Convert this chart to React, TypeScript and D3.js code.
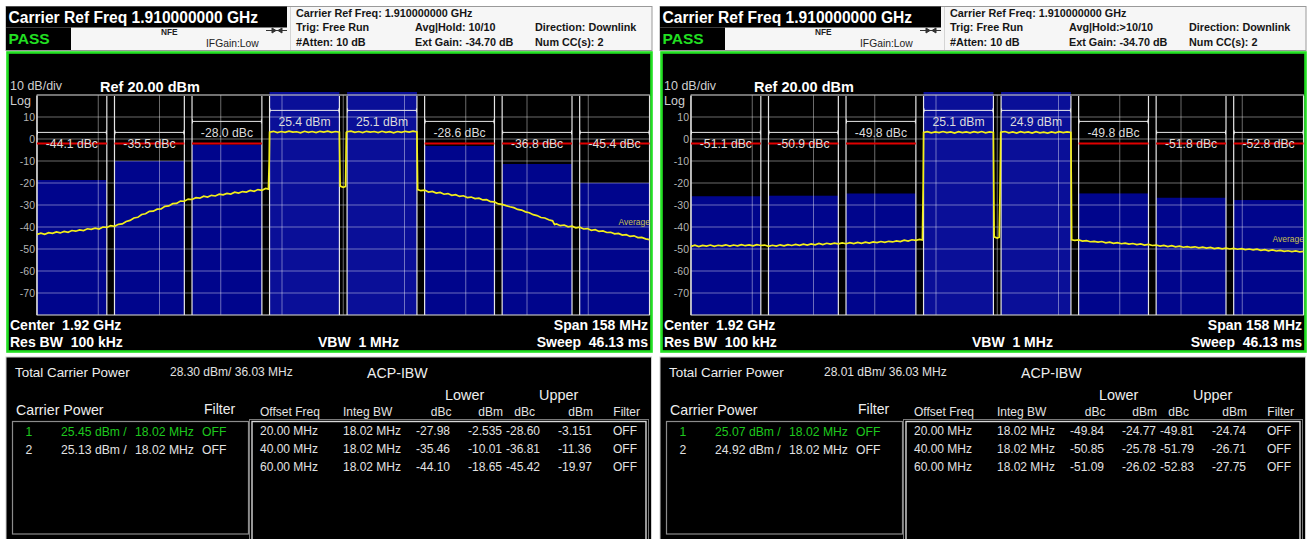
import React from 'react';
import * as d3 from 'd3';

const FONT = "'Liberation Sans', Arial, Helvetica, sans-serif";

// ---- instrument settings ----
const centerFreqMHz = 1920;
const spanMHz = 158;
const refLevel = 20;
const dbPerDiv = 10;
const yTickLabels = [10, 0, -10, -20, -30, -40, -50, -60, -70];
const carrierFreqs = [1910, 1930];
const integBW = 18.02;
const offsetFreqs = [20, 40, 60];
const limitLevel = -2;
const bracketCarrier = 13;
const bracketNear = 8;
const bracketFar = 3;

// ---- left measurement ----
const leftAvgHold = 'Avg|Hold: 10/10';
const leftTotalPower = '28.30 dBm/ 36.03 MHz';
const leftCarrierPower = [25.45, 25.13];
const leftLowerDbc = [-27.98, -35.46, -44.10];
const leftLowerDbm = [-2.535, -10.01, -18.65];
const leftUpperDbc = [-28.60, -36.81, -45.42];
const leftUpperDbm = [-3.151, -11.36, -19.97];
const leftAverageLabel = -39;
const leftTrace: [number, number][] = [
  [1841,-43.4],[1842,-42.8],[1843,-43.3],[1844,-42.6],[1845,-42.9],[1846,-42.2],[1847,-42.7],[1848,-42.0],[1849,-42.4],[1850,-41.6],
  [1851,-41.9],[1852,-41.3],[1853,-41.6],[1854,-40.8],[1855,-41.1],[1856,-40.5],[1857,-40.9],[1858,-40.0],[1859,-40.2],[1860,-39.4],
  [1861,-39.7],[1862,-38.8],[1863,-38.6],[1864,-37.5],[1865,-37.0],[1866,-35.9],[1867,-35.6],[1868,-34.3],[1869,-34.0],[1870,-32.9],
  [1871,-32.8],[1872,-31.9],[1873,-31.8],[1874,-30.6],[1875,-30.4],[1876,-29.4],[1877,-29.3],[1878,-28.2],[1879,-28.3],[1880,-27.3],
  [1881,-27.5],[1882,-26.7],[1883,-26.9],[1884,-26.0],[1885,-26.4],[1886,-25.6],[1887,-25.9],[1888,-25.1],[1889,-25.4],[1890,-24.7],
  [1891,-25.0],[1892,-24.2],[1893,-24.6],[1894,-23.9],[1895,-24.1],[1896,-23.4],[1897,-23.8],[1898,-23.0],[1899,-23.3],[1900,-22.5],
  [1900.7,-22.8],[1900.9,-10.0],[1901,3.1],
  [1902,3.5],[1903,2.9],[1904,3.4],[1905,3.0],[1906,3.6],[1907,3.1],[1908,3.3],[1909,2.8],[1910,3.5],[1911,3.0],
  [1912,3.4],[1913,2.9],[1914,3.5],[1915,3.1],[1916,3.6],[1917,3.0],[1918,3.4],[1919,3.1],
  [1919.2,-21.4],[1920.0,-22.0],[1920.6,-21.6],[1920.8,3.0],
  [1921,3.3],[1922,3.6],[1923,3.0],[1924,3.4],[1925,2.9],[1926,3.5],[1927,3.1],[1928,3.4],[1929,2.9],[1930,3.5],
  [1931,3.0],[1932,3.3],[1933,2.8],[1934,3.4],[1935,3.0],[1936,3.5],[1937,3.1],[1938,3.6],[1939,3.2],
  [1939.2,-23.0],[1940,-23.5],[1941,-23.2],[1942,-24.1],[1943,-23.8],[1944,-24.6],[1945,-24.3],[1946,-25.1],[1947,-24.8],[1948,-25.6],
  [1949,-25.3],[1950,-26.1],[1951,-25.8],[1952,-26.6],[1953,-26.4],[1954,-27.1],[1955,-26.9],[1956,-27.7],[1957,-27.6],[1958,-28.5],
  [1959,-28.6],[1960,-29.5],[1961,-29.7],[1962,-30.3],[1963,-30.8],[1964,-31.2],[1965,-32.0],[1966,-32.3],[1967,-33.1],[1968,-33.5],
  [1969,-34.4],[1970,-34.8],[1971,-35.7],[1972,-35.9],[1973,-36.7],[1974,-37.2],[1974.5,-38.9],[1975,-38.6],[1976,-39.4],[1977,-39.1],
  [1978,-39.9],[1979,-39.6],[1980,-40.4],[1981,-40.1],[1982,-40.9],[1983,-40.7],[1984,-41.5],[1985,-41.2],[1986,-42.0],[1987,-41.8],
  [1988,-42.5],[1989,-42.4],[1990,-43.1],[1991,-42.9],[1992,-43.7],[1993,-43.5],[1994,-44.3],[1995,-44.0],[1996,-44.8],[1997,-44.7],
  [1998,-45.4],[1999,-45.7],
];

// ---- right measurement ----
const rightAvgHold = 'Avg|Hold:>10/10';
const rightTotalPower = '28.01 dBm/ 36.03 MHz';
const rightCarrierPower = [25.07, 24.92];
const rightLowerDbc = [-49.84, -50.85, -51.09];
const rightLowerDbm = [-24.77, -25.78, -26.02];
const rightUpperDbc = [-49.81, -51.79, -52.83];
const rightUpperDbm = [-24.74, -26.71, -27.75];
const rightAverageLabel = -47;
const rightTrace: [number, number][] = [
  [1841,-48.8],[1842,-48.3],[1843,-48.9],[1844,-48.4],[1845,-48.7],[1846,-48.2],[1847,-48.8],[1848,-48.3],[1849,-48.6],[1850,-48.1],
  [1851,-48.7],[1852,-48.2],[1853,-48.6],[1854,-48.0],[1855,-48.5],[1856,-48.1],[1857,-48.6],[1858,-48.0],[1859,-48.4],[1860,-48.2],
  [1861,-48.8],[1862,-48.3],[1863,-48.7],[1864,-48.1],[1865,-48.6],[1866,-48.0],[1867,-48.4],[1868,-47.9],[1869,-48.3],[1870,-47.8],
  [1871,-48.2],[1872,-47.7],[1873,-48.1],[1874,-47.5],[1875,-48.0],[1876,-47.4],[1877,-47.8],[1878,-47.3],[1879,-47.7],[1880,-47.2],
  [1881,-47.6],[1882,-47.1],[1883,-47.5],[1884,-47.0],[1885,-47.4],[1886,-46.9],[1887,-47.3],[1888,-46.8],[1889,-47.1],[1890,-46.6],
  [1891,-47.0],[1892,-46.5],[1893,-46.8],[1894,-46.3],[1895,-46.6],[1896,-46.0],[1897,-46.4],[1898,-45.8],[1899,-46.1],[1900,-45.6],
  [1900.7,-45.9],[1900.9,-20.0],[1901,3.0],
  [1902,3.3],[1903,2.8],[1904,3.2],[1905,2.9],[1906,3.4],[1907,2.9],[1908,3.2],[1909,2.7],[1910,3.3],[1911,2.9],
  [1912,3.2],[1913,2.8],[1914,3.3],[1915,2.9],[1916,3.4],[1917,2.8],[1918,3.2],[1919,3.0],
  [1919.2,-44.5],[1920.0,-45.0],[1920.5,-44.6],[1920.7,-25.0],[1920.9,3.0],
  [1921,3.1],[1922,3.4],[1923,2.8],[1924,3.2],[1925,2.7],[1926,3.3],[1927,2.9],[1928,3.2],[1929,2.7],[1930,3.3],
  [1931,2.8],[1932,3.1],[1933,2.7],[1934,3.2],[1935,2.8],[1936,3.3],[1937,2.9],[1938,3.2],[1939,3.0],
  [1939.2,-45.8],[1940,-46.1],[1941,-45.9],[1942,-46.4],[1943,-46.2],[1944,-46.7],[1945,-46.5],[1946,-46.9],[1947,-46.6],[1948,-47.2],
  [1949,-46.9],[1950,-47.4],[1951,-47.1],[1952,-47.6],[1953,-47.3],[1954,-47.8],[1955,-47.5],[1956,-48.0],[1957,-47.7],[1958,-48.2],
  [1959,-47.9],[1960,-48.4],[1961,-48.2],[1962,-48.7],[1963,-48.4],[1964,-48.9],[1965,-48.5],[1966,-49.0],[1967,-48.7],[1968,-49.2],
  [1969,-48.9],[1970,-49.3],[1971,-49.0],[1972,-49.5],[1973,-49.2],[1974,-49.6],[1975,-49.3],[1976,-49.8],[1977,-49.5],[1978,-49.9],
  [1979,-49.6],[1980,-50.0],[1981,-49.7],[1982,-50.1],[1983,-49.8],[1984,-50.3],[1985,-50.0],[1986,-50.4],[1987,-50.1],[1988,-50.6],
  [1989,-50.3],[1990,-50.8],[1991,-50.4],[1992,-50.9],[1993,-50.6],[1994,-51.1],[1995,-50.8],[1996,-51.2],[1997,-50.9],[1998,-51.3],
  [1999,-51.1],
];

type PanelData = {
  avgHold: string; total: string; carrierPower: number[];
  lowerDbc: number[]; lowerDbm: number[]; upperDbc: number[]; upperDbm: number[];
  trace: [number, number][]; avgLabel: number;
};

const panels: { ox: number; d: PanelData }[] = [
  { ox: 0, d: { avgHold: leftAvgHold, total: leftTotalPower, carrierPower: leftCarrierPower,
    lowerDbc: leftLowerDbc, lowerDbm: leftLowerDbm, upperDbc: leftUpperDbc, upperDbm: leftUpperDbm,
    trace: leftTrace, avgLabel: leftAverageLabel } },
  { ox: 654, d: { avgHold: rightAvgHold, total: rightTotalPower, carrierPower: rightCarrierPower,
    lowerDbc: rightLowerDbc, lowerDbm: rightLowerDbm, upperDbc: rightUpperDbc, upperDbm: rightUpperDbm,
    trace: rightTrace, avgLabel: rightAverageLabel } },
];

const fmt = (v: number, n: number) => v.toFixed(n);

function Bracket({ x1, x2, y }: { x1: number; x2: number; y: number }) {
  return (
    <g stroke="#e8e8e8" strokeWidth={1}>
      <line x1={x1} x2={x2} y1={y} y2={y} />
      <line x1={x1 + 0.5} x2={x1 + 0.5} y1={y - 2} y2={y + 2} />
      <line x1={x2 - 0.5} x2={x2 - 0.5} y1={y - 2} y2={y + 2} />
    </g>
  );
}

function Panel({ ox, d, idx }: { ox: number; d: PanelData; idx: number }) {
  const f0 = centerFreqMHz - spanMHz / 2;
  const f1 = centerFreqMHz + spanMHz / 2;
  const x = d3.scaleLinear().domain([f0, f1]).range([37, 649.5]);
  const y = d3.scaleLinear().domain([refLevel - 10 * dbPerDiv, refLevel]).range([315, 95]);
  const half = integBW / 2;
  const top = y(refLevel);
  const bottom = y(refLevel - 10 * dbPerDiv);

  const channels: { f: number; dbc: number; dbm: number; lvl: number }[] = [];
  offsetFreqs.forEach((o, i) => {
    const lvl = i === 0 ? bracketNear : bracketFar;
    channels.push({ f: carrierFreqs[0] - o, dbc: d.lowerDbc[i], dbm: d.lowerDbm[i], lvl });
    channels.push({ f: carrierFreqs[1] + o, dbc: d.upperDbc[i], dbm: d.upperDbm[i], lvl });
  });

  const vGrid = d3.range(11).map((i) => f0 + (i * spanMHz) / 10);
  const hGrid = d3.range(11).map((i) => refLevel - i * dbPerDiv);
  const line = d3.line<[number, number]>().x((p) => x(p[0])).y((p) => y(p[1]));
  const clipId = `plotclip${idx}`;

  const hdr = { fontFamily: FONT, fontSize: 10.8, fontWeight: 700, fill: '#151515' } as const;
  const bot = { fontFamily: FONT, fontSize: 14, fontWeight: 700, fill: '#ffffff', style: { whiteSpace: 'pre' as const } };
  const tbl = { fontFamily: FONT, fontSize: 12, fill: '#e2e2e2' } as const;
  const green = '#1ec81e';

  const acpCols = [260, 343];
  const rows = [434.5, 452.8, 471.2];

  return (
    <g transform={`translate(${ox},0)`}>
      {/* header */}
      <rect x={6} y={6.5} width={646} height={44} fill="#f6f6f6" stroke="#9a9a9a" strokeWidth={1} />
      <rect x={6} y={6.5} width={281} height={21} fill="#000" />
      <text x={8.5} y={22.5} fontFamily={FONT} fontSize={15.6} fontWeight={700} fill="#fff">Carrier Ref Freq 1.910000000 GHz</text>
      <rect x={6} y={27.5} width={65} height={22.5} fill="#000" />
      <text x={8.5} y={44} fontFamily={FONT} fontSize={15.5} fontWeight={700} fill="#22e022">PASS</text>
      <text x={161} y={35} fontFamily={FONT} fontSize={8.3} fontWeight={700} fill="#222">NFE</text>
      <text x={206} y={47} fontFamily={FONT} fontSize={10.3} fill="#222">IFGain:Low</text>
      <g stroke="#333" strokeWidth={1} fill="#333">
        <line x1={266} x2={287} y1={30.5} y2={30.5} />
        <path d="M272,28 L276,30.5 L272,33 Z" />
        <path d="M282,28 L278,30.5 L282,33 Z" />
      </g>
      <line x1={290.5} x2={290.5} y1={7} y2={50} stroke="#d4d4d4" />
      <text x={296} y={17} {...hdr}>Carrier Ref Freq: 1.910000000 GHz</text>
      <text x={296} y={31} {...hdr}>Trig: Free Run</text>
      <text x={296} y={45.5} {...hdr}>#Atten: 10 dB</text>
      <text x={415} y={31} {...hdr}>{d.avgHold}</text>
      <text x={415} y={45.5} {...hdr}>Ext Gain: -34.70 dB</text>
      <text x={535} y={31} {...hdr}>Direction: Downlink</text>
      <text x={535} y={45.5} {...hdr}>Num CC(s): 2</text>

      {/* plot frame */}
      <rect x={7.5} y={52.5} width={644} height={299} fill="#000" stroke="#22e022" strokeWidth={2.6} />
      <text x={10} y={90} fontFamily={FONT} fontSize={12.5} fill="#cfcfcf">10 dB/div</text>
      <text x={100} y={91.5} fontFamily={FONT} fontSize={14.5} fontWeight={700} fill="#fff">Ref 20.00 dBm</text>
      <text x={10} y={105} fontFamily={FONT} fontSize={12.5} fill="#cfcfcf">Log</text>
      {yTickLabels.map((v) => (
        <text key={v} x={35} y={y(v) + 3.6} textAnchor="end" fontFamily={FONT} fontSize={10.5} fill="#b4b4b4">{v}</text>
      ))}

      {/* channel fills */}
      {carrierFreqs.map((f) => (
        <rect key={'c' + f} x={x(f - half)} y={top - 3} width={x(f + half) - x(f - half)} height={bottom - top + 3} fill="#0a0f98" />
      ))}
      {channels.map((c) => (
        <rect key={'a' + c.f} x={x(c.f - half)} y={y(c.dbm)} width={x(c.f + half) - x(c.f - half)} height={bottom - y(c.dbm)} fill="#00058c" />
      ))}

      {/* grid */}
      <g stroke="#ffffff" strokeOpacity={0.42} strokeWidth={1}>
        {vGrid.map((f) => <line key={'v' + f} x1={x(f)} x2={x(f)} y1={top} y2={bottom} />)}
        {hGrid.map((v) => <line key={'h' + v} x1={x(f0)} x2={x(f1)} y1={y(v)} y2={y(v)} />)}
      </g>
      <rect x={x(f0)} y={top} width={x(f1) - x(f0)} height={bottom - top} fill="none" stroke="#b0b0b0" strokeWidth={1} />

      {/* channel edge lines */}
      <g stroke="#e6e6e6" strokeWidth={1.2}>
        {[...carrierFreqs.map((f) => f), ...channels.map((c) => c.f)].map((f) => (
          <g key={'e' + f}>
            <line x1={x(f - half)} x2={x(f - half)} y1={top + 1} y2={bottom} />
            <line x1={x(f + half)} x2={x(f + half)} y1={top + 1} y2={bottom} />
          </g>
        ))}
      </g>

      {/* limit lines */}
      {channels.map((c) => (
        <line key={'l' + c.f} x1={x(c.f - half)} x2={x(c.f + half)} y1={y(limitLevel)} y2={y(limitLevel)} stroke="#e00000" strokeWidth={2} />
      ))}

      {/* brackets & labels */}
      {carrierFreqs.map((f, i) => (
        <g key={'cb' + f}>
          <Bracket x1={x(f - half)} x2={x(f + half)} y={y(bracketCarrier)} />
          <text x={x(f)} y={y(bracketCarrier) + 15.5} textAnchor="middle" fontFamily={FONT} fontSize={12.2} fill="#dcdcdc">{fmt(d.carrierPower[i], 1)} dBm</text>
        </g>
      ))}
      {channels.map((c) => (
        <g key={'ab' + c.f}>
          <Bracket x1={x(c.f - half)} x2={x(c.f + half)} y={y(c.lvl)} />
          <text x={x(c.f)} y={y(c.lvl) + 15.5} textAnchor="middle" fontFamily={FONT} fontSize={12.2} fill="#dcdcdc">{fmt(c.dbc, 1)} dBc</text>
        </g>
      ))}

      {/* trace */}
      <clipPath id={clipId}><rect x={x(f0)} y={top - 4} width={x(f1) - x(f0) + 1} height={bottom - top + 4} /></clipPath>
      <path d={line(d.trace) || ''} fill="none" stroke="#f2ee1a" strokeWidth={1.7} clipPath={`url(#${clipId})`} />
      <text x={650} y={y(d.avgLabel)} textAnchor="end" fontFamily={FONT} fontSize={8.5} fill="#c8c050">Average</text>

      {/* bottom annotations */}
      <text x={10} y={329.5} {...bot}>Center  1.92 GHz</text>
      <text x={10} y={346.5} {...bot}>Res BW  100 kHz</text>
      <text x={318} y={346.5} {...bot}>VBW  1 MHz</text>
      <text x={648} y={329.5} textAnchor="end" {...bot}>Span 158 MHz</text>
      <text x={648} y={346.5} textAnchor="end" {...bot}>Sweep  46.13 ms</text>

      {/* table area */}
      <rect x={6} y={357} width={645.5} height={190} fill="#000" stroke="#cfcfcf" strokeWidth={1} />
      <text x={15} y={377} fontFamily={FONT} fontSize={13.4} fill="#eeeeee">Total Carrier Power</text>
      <text x={170} y={375.5} {...tbl}>{d.total}</text>
      <text x={367} y={377.5} fontFamily={FONT} fontSize={14.2} fill="#eeeeee">ACP-IBW</text>
      <text x={445} y={400} fontFamily={FONT} fontSize={14.4} fill="#eeeeee">Lower</text>
      <text x={539} y={400} fontFamily={FONT} fontSize={14.4} fill="#eeeeee">Upper</text>
      <text x={16} y={415} fontFamily={FONT} fontSize={14.2} fill="#eeeeee">Carrier Power</text>
      <text x={204} y={414} fontFamily={FONT} fontSize={14} fill="#eeeeee">Filter</text>

      <rect x={12.5} y={421.5} width={236} height={112.5} fill="none" stroke="#8c8c8c" strokeWidth={1.2} />
      {d.carrierPower.map((p, i) => {
        const col = i === 0 ? green : '#e2e2e2';
        const yy = [435.5, 453.5][i];
        return (
          <g key={'cp' + i} fontFamily={FONT} fontSize={12.2} fill={col}>
            <text x={25.5} y={yy}>{i + 1}</text>
            <text x={61} y={yy}>{fmt(p, 2)} dBm /</text>
            <text x={135} y={yy}>{fmt(integBW, 2)} MHz</text>
            <text x={202} y={yy}>OFF</text>
          </g>
        );
      })}

      <text x={260} y={416} {...tbl}>Offset Freq</text>
      <text x={343} y={416} {...tbl}>Integ BW</text>
      <text x={451.5} y={416} textAnchor="end" {...tbl}>dBc</text>
      <text x={503} y={416} textAnchor="end" {...tbl}>dBm</text>
      <text x={535} y={416} textAnchor="end" {...tbl}>dBc</text>
      <text x={593} y={416} textAnchor="end" {...tbl}>dBm</text>
      <text x={640} y={416} textAnchor="end" {...tbl}>Filter</text>
      <rect x={249.5} y={419.5} width={399} height={140} fill="none" stroke="#7a7a7a" strokeWidth={1} />
      <rect x={252} y={421.5} width={394} height={140} fill="none" stroke="#d8d8d8" strokeWidth={1.4} />
      {offsetFreqs.map((o, i) => (
        <g key={'r' + o} {...tbl}>
          <text x={acpCols[0]} y={rows[i]}>{fmt(o, 2)} MHz</text>
          <text x={acpCols[1]} y={rows[i]}>{fmt(integBW, 2)} MHz</text>
          <text x={450} y={rows[i]} textAnchor="end">{fmt(d.lowerDbc[i], 2)}</text>
          <text x={502} y={rows[i]} textAnchor="end">{String(d.lowerDbm[i])}</text>
          <text x={506} y={rows[i]}>{fmt(d.upperDbc[i], 2)}</text>
          <text x={558} y={rows[i]}>{String(d.upperDbm[i])}</text>
          <text x={613} y={rows[i]}>OFF</text>
        </g>
      ))}
    </g>
  );
}

export default function App() {
  return (
    <svg width={1309} height={539} style={{ position: 'absolute', left: 0, top: 0, background: '#fff' }}>
      <rect x={0} y={0} width={1309} height={539} fill="#ffffff" />
      {panels.map((p, i) => <Panel key={i} ox={p.ox} d={p.d} idx={i} />)}
    </svg>
  );
}
